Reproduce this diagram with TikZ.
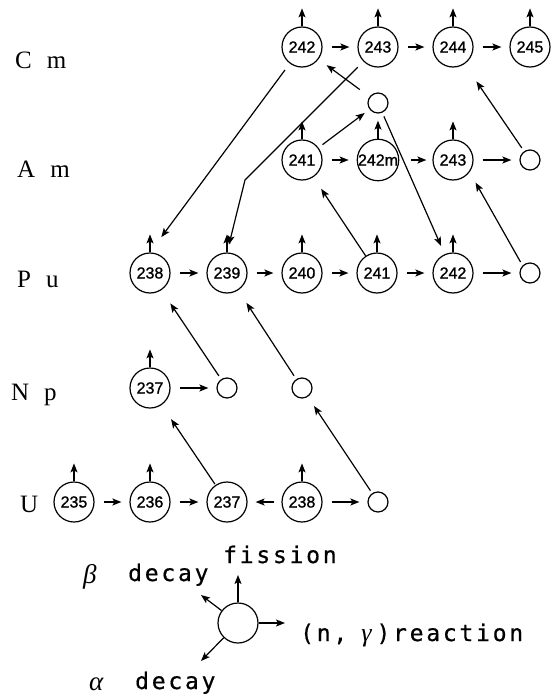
\documentclass[tikz,border=0pt]{standalone}
\usepackage{fontspec}
\setmainfont{Liberation Serif}
\newfontfamily\numfont{Liberation Sans}[FakeBold=1.2]
\newfontfamily\legfont{DejaVu Sans Mono}[LetterSpace=12,FakeBold=0.6]
\newfontfamily\grkfont{Liberation Serif}
\usetikzlibrary{arrows.meta}

\begin{document}
\begin{tikzpicture}[x=1pt,y=-1pt,
  nuc/.style={circle,draw,line width=1.2pt,minimum size=40pt,inner sep=0pt,
              font=\numfont\fontsize{16}{16}\selectfont},
  sm/.style={circle,draw,line width=1.2pt,minimum size=20pt,inner sep=0pt},
  arr/.style={line width=1.2pt,-{Stealth[length=9pt,width=7pt,inset=2pt]}},
  hz/.style={arr,shorten <=9pt,shorten >=8pt},
  elem/.style={anchor=base west,inner sep=0pt,font=\fontsize{25}{25}\selectfont},
  leg/.style={anchor=base west,inner sep=0pt,font=\legfont\fontsize{23}{23}\selectfont},
  grk/.style={anchor=base west,inner sep=0pt,font=\grkfont\fontsize{27}{27}\selectfont\itshape}
]
\useasboundingbox (0,0) rectangle (557,696);

% element labels
\node[elem] (lcm) at (15,68)  {C\hspace{0.6em}m};
\node[elem] (lam) at (17,177) {A\hspace{0.6em}m};
\node[elem] (lpu) at (17,287) {P\hspace{0.6em}u};
\node[elem] (lnp) at (11,400) {N\hspace{0.6em}p};
\node[elem] (lu)  at (20,512) {U};

% Cm
\node[nuc] (cm242) at (302,47) {242};
\node[nuc] (cm243) at (378,47) {243};
\node[nuc] (cm244) at (453,47) {244};
\node[nuc] (cm245) at (530,47) {245};
\node[sm]  (amx)   at (378,103) {};
% Am
\node[nuc] (am241)  at (302,160) {241};
\node[nuc] (am242m) at (378,160) {242m};
\node[nuc] (am243)  at (453,160) {243};
\node[sm]  (amy)    at (530,160) {};
% Pu
\node[nuc] (pu238) at (150,273) {238};
\node[nuc] (pu239) at (227,273) {239};
\node[nuc] (pu240) at (302,273) {240};
\node[nuc] (pu241) at (377,273) {241};
\node[nuc] (pu242) at (453,273) {242};
\node[sm]  (pux)   at (530,273) {};
% Np
\node[nuc] (np237) at (150,388) {237};
\node[sm]  (npx1)  at (227,388) {};
\node[sm]  (npx2)  at (302,388) {};
% U
\node[nuc] (u235) at (74,502)  {235};
\node[nuc] (u236) at (150,502) {236};
\node[nuc] (u237) at (227,502) {237};
\node[nuc] (u238) at (302,502) {238};
\node[sm]  (ux)   at (378,502) {};

% fission arrows
\foreach \n in {cm242,cm243,cm244,cm245,am241,am242m,am243,
                pu238,pu239,pu240,pu241,pu242,np237,u235,u236,u238}{
  \coordinate (\n-f) at ([yshift=18pt]\n.north);
  \draw[arr] (\n) -- (\n-f);
}

% (n,gamma) reactions
\draw[hz] (cm242) -- (cm243);
\draw[hz] (cm243) -- (cm244);
\draw[hz] (cm244) -- (cm245);
\draw[hz] (am241) -- (am242m);
\draw[arr,shorten <=12pt,shorten >=6pt] (am242m) -- (am243);
\draw[hz] (am243) -- (amy);
\draw[hz] (pu238) -- (pu239);
\draw[hz] (pu239) -- (pu240);
\draw[hz] (pu240) -- (pu241);
\draw[hz] (pu241) -- (pu242);
\draw[hz] (pu242) -- (pux);
\draw[hz] (np237) -- (npx1);
\draw[hz] (u235) -- (u236);
\draw[hz] (u236) -- (u237);
\draw[arr,shorten <=7pt,shorten >=8pt] (u238) -- (u237);
\draw[hz] (u238) -- (ux);

% decays
\coordinate (bend) at (245,180);
\draw[arr,shorten <=8pt,shorten >=19pt] (cm242) -- (pu238.north);
\draw[arr,shorten <=8pt,shorten >=8pt] (cm243) -- (bend) -- (pu239.north);
\draw[arr,shorten <=12pt,shorten >=10pt] (amx) -- (cm242);
\draw[arr,shorten <=5pt,shorten >=6pt] (am241) -- (amx);
\draw[arr,shorten >=14pt] (pu241) -- (am241);
\draw[arr,shorten <=4pt,shorten >=9pt] (amx) -- (pu242);
\draw[arr,shorten <=4pt,shorten >=12pt] (pux.135) -- (am243.-36);
\draw[arr,shorten <=4pt,shorten >=21pt] (amy) -- (cm244);
\draw[arr,shorten <=4pt,shorten >=16pt] (npx1) -- (pu238);
\draw[arr,shorten <=4pt,shorten >=15pt] (npx2) -- (pu239);
\draw[arr,shorten <=1pt,shorten >=17pt] (u237) -- (np237);
\draw[arr,shorten <=3pt,shorten >=11pt] (ux) -- (npx2);

% legend
\node[nuc] (lg) at (238,623) {};
\coordinate (lg-f) at (238,575);
\coordinate (lg-b) at (201,595);
\coordinate (lg-a) at (201,661);
\coordinate (lg-n) at (285,623);
\draw[arr] (lg) -- (lg-f);
\draw[arr] (lg) -- (lg-b);
\draw[arr] (lg) -- (lg-a);
\draw[arr] (lg) -- (lg-n);
\node[leg] (tfis) at (223,563) {fission};
\node[grk] (tbeta) at (83,583) {β};
\node[leg] (tbdec) at (128,581) {decay};
\node[grk] (talpha) at (89,690) {α};
\node[leg] (tadec) at (135,689) {decay};
\node[leg] (tngam) at (300,641) {(n,\hspace{14pt}{\grkfont\itshape\fontsize{26}{26}\selectfont γ}\hspace{5pt})reaction};
\end{tikzpicture}
\end{document}
